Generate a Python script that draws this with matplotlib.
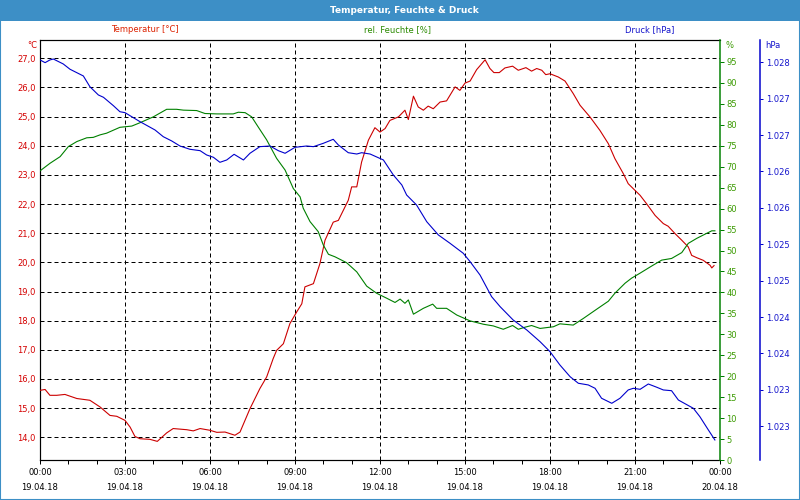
import matplotlib
matplotlib.use('Agg')
import matplotlib.pyplot as plt
from matplotlib.ticker import FixedLocator, MultipleLocator, FuncFormatter
from matplotlib.patches import Rectangle

plt.rcParams['font.family'] = ['DejaVu Sans']
plt.rcParams['lines.scale_dashes'] = False

# ---------------- data ----------------
hours_temp = [0.00, 0.18, 0.35, 0.59, 0.88, 1.30, 1.76, 2.12, 2.47, 2.71, 3.00, 3.18, 3.35, 3.53, 3.88,
              4.14, 4.47, 4.70, 5.18, 5.41, 5.65, 6.00, 6.24, 6.53, 6.88, 7.06, 7.41, 7.76, 8.00, 8.23,
              8.35, 8.59, 8.82, 9.06, 9.24, 9.35, 9.65, 9.88, 10.06, 10.35, 10.53, 10.88, 11.00, 11.18,
              11.35, 11.59, 11.82, 12.00, 12.18, 12.35, 12.65, 12.88, 13.00, 13.18, 13.35, 13.53, 13.70,
              13.88, 14.12, 14.35, 14.65, 14.82, 15.00, 15.18, 15.41, 15.71, 15.88, 16.02, 16.21, 16.41,
              16.68, 16.88, 17.15, 17.35, 17.53, 17.71, 17.85, 18.00, 18.29, 18.53, 18.82, 19.06, 19.41,
              19.76, 20.06, 20.29, 20.59, 20.76, 21.00, 21.18, 21.41, 21.71, 22.00, 22.17, 22.41, 22.65,
              22.88, 23.00, 23.18, 23.41, 23.65, 23.71, 23.79]
temperature = [15.61, 15.64, 15.44, 15.44, 15.47, 15.33, 15.27, 15.04, 14.75, 14.72, 14.58, 14.35, 14.03, 13.95, 13.93,
               13.86, 14.15, 14.30, 14.26, 14.22, 14.30, 14.24, 14.17, 14.18, 14.07, 14.18, 14.98, 15.67, 16.07, 16.70,
               16.98, 17.21, 17.90, 18.30, 18.58, 19.16, 19.27, 19.96, 20.76, 21.38, 21.44, 22.13, 22.59, 22.59,
               23.44, 24.19, 24.62, 24.47, 24.59, 24.87, 24.99, 25.22, 24.90, 25.70, 25.33, 25.22, 25.36,
               25.27, 25.50, 25.54, 26.02, 25.90, 26.15, 26.22, 26.61, 26.95, 26.65, 26.51, 26.51, 26.67,
               26.73, 26.59, 26.68, 26.56, 26.65, 26.59, 26.44, 26.47, 26.36, 26.22, 25.79, 25.39, 24.99,
               24.53, 24.07, 23.56, 23.04, 22.70, 22.47, 22.30, 22.01, 21.61, 21.33, 21.24, 20.99, 20.76,
               20.53, 20.24, 20.16, 20.07, 19.90, 19.81, 19.89]

hours_hum = [0.00, 0.35, 0.71, 1.00, 1.30, 1.65, 1.88, 2.12, 2.35, 2.82, 3.24, 3.53, 4.00, 4.47, 4.82,
             5.06, 5.53, 5.82, 6.24, 6.82, 7.00, 7.24, 7.47, 7.70, 8.00, 8.35, 8.65, 8.94, 9.18, 9.29,
             9.53, 9.82, 10.00, 10.18, 10.41, 10.82, 11.18, 11.53, 11.88, 12.24, 12.53, 12.71, 12.88, 13.00,
             13.18, 13.53, 13.86, 14.00, 14.35, 14.71, 15.18, 15.65, 16.00, 16.35, 16.68, 16.88, 17.12,
             17.35, 17.65, 18.12, 18.35, 18.82, 19.18, 19.65, 20.06, 20.29, 20.65, 20.88, 21.18, 21.59,
             21.94, 22.29, 22.65, 22.88, 23.18, 23.53, 23.71, 23.82]
humidity = [69.0, 70.8, 72.4, 74.8, 76.0, 76.9, 77.0, 77.6, 78.0, 79.4, 79.7, 80.5, 81.9, 83.7, 83.7,
            83.5, 83.4, 82.7, 82.6, 82.6, 83.0, 82.9, 81.9, 79.5, 76.4, 72.0, 69.2, 64.8, 62.8, 60.1,
            56.9, 54.5, 51.3, 49.1, 48.5, 47.1, 44.9, 41.5, 39.8, 38.6, 37.6, 38.4, 37.4, 38.2,
            34.8, 36.2, 37.2, 36.2, 36.2, 34.6, 33.2, 32.4, 32.0, 31.2, 32.1, 31.2, 31.7,
            32.1, 31.4, 31.8, 32.5, 32.2, 33.8, 36.0, 37.9, 39.8, 42.2, 43.4, 44.6, 46.3,
            47.7, 48.1, 49.5, 51.7, 52.9, 54.1, 54.7, 54.7]

hours_press = [0.00, 0.18, 0.35, 0.47, 0.82, 1.06, 1.30, 1.53, 1.76, 2.06, 2.24, 2.59, 2.82, 3.00, 3.53,
               4.06, 4.35, 4.65, 4.94, 5.29, 5.65, 5.88, 6.12, 6.35, 6.59, 6.85, 7.18, 7.41, 7.76, 8.12,
               8.41, 8.65, 9.00, 9.41, 9.65, 10.00, 10.35, 10.53, 10.88, 11.18, 11.35, 11.65, 12.12, 12.47,
               12.77, 12.94, 13.29, 13.65, 14.06, 14.47, 14.94, 15.18, 15.53, 15.94, 16.24, 16.70, 17.18,
               17.65, 18.00, 18.35, 18.71, 19.00, 19.35, 19.59, 19.82, 20.18, 20.47, 20.76, 20.94, 21.18,
               21.47, 21.77, 22.00, 22.29, 22.53, 23.06, 23.29, 23.59, 23.82]
pressure = [1.028032, 1.027995, 1.028032, 1.028045, 1.027977, 1.027904, 1.027857, 1.027812, 1.027665, 1.027551,
            1.027519, 1.027404, 1.027321, 1.027308, 1.027184, 1.027070, 1.026978, 1.026919, 1.026850, 1.026805,
            1.026786, 1.026727, 1.026695, 1.026626, 1.026658, 1.026736, 1.026658, 1.026750, 1.026841, 1.026850,
            1.026786, 1.026750, 1.026832, 1.026850, 1.026841, 1.026887, 1.026942, 1.026864, 1.026758, 1.026740,
            1.026758, 1.026740, 1.026658, 1.026452, 1.026315, 1.026177, 1.026040, 1.025810, 1.025628, 1.025514,
            1.025376, 1.025261, 1.025078, 1.024780, 1.024643, 1.024460, 1.024323, 1.024162, 1.024025, 1.023842,
            1.023681, 1.023591, 1.023568, 1.023522, 1.023385, 1.023316, 1.023385, 1.023499, 1.023522, 1.023508,
            1.023581, 1.023536, 1.023499, 1.023489, 1.023361, 1.023247, 1.023132, 1.022949, 1.022812]

temp_ticks = [14, 15, 16, 17, 18, 19, 20, 21, 22, 23, 24, 25, 26, 27]
hum_ticks = [0, 5, 10, 15, 20, 25, 30, 35, 40, 45, 50, 55, 60, 65, 70, 75, 80, 85, 90, 95]
press_ticks = [1.0280, 1.0275, 1.0270, 1.0265, 1.0260, 1.0255, 1.0250, 1.0245, 1.0240, 1.0235, 1.0230]
press_labels = ['1.028', '1.027', '1.027', '1.026', '1.026', '1.025', '1.025', '1.024', '1.024', '1.023', '1.023']
x_ticks = [0, 3, 6, 9, 12, 15, 18, 21, 24]
x_labels = ['00:00\n19.04.18', '03:00\n19.04.18', '06:00\n19.04.18', '09:00\n19.04.18', '12:00\n19.04.18',
            '15:00\n19.04.18', '18:00\n19.04.18', '21:00\n19.04.18', '00:00\n20.04.18']

# ---------------- styling ----------------
W, H = 800, 500
RED, GREEN, BLUE = '#cc0000', '#008000', '#0000cc'
RED_T, GREEN_T, BLUE_T = '#d40000', '#3a9a00', '#1515cc'
FS = 6
PX = 0.72

fig = plt.figure(figsize=(8, 5), dpi=100)
fig.patch.set_facecolor('white')
L, R, T, B = 40, 720, 40, 460
ax = fig.add_axes([L / W, 1 - B / H, (R - L) / W, (B - T) / H])
ax2 = ax.twinx()
ax3 = ax.twinx()

ax.set_xlim(0, 24)
ax.set_ylim(13.221, 27.628)
ax2.set_ylim(0, 100.24)
ax3.set_ylim(1.022537, 1.028306)

ax.plot(hours_temp, temperature, color=RED, lw=0.8, zorder=3)
ax2.plot(hours_hum, humidity, color=GREEN, lw=0.8)
ax3.plot(hours_press, pressure, color=BLUE, lw=0.8)

# grid
dash = (0, (4 * PX, 3 * PX))
ax.grid(True, which='major', color='black', linewidth=PX, linestyle=dash)

# x axis
ax.xaxis.set_major_locator(FixedLocator(x_ticks))
ax.set_xticklabels(x_labels, linespacing=1.75)
ax.xaxis.set_minor_locator(MultipleLocator(1))
ax.tick_params(axis='x', which='both', length=3, width=PX, direction='out', pad=3,
               labelsize=FS, colors='black')

# temperature axis
ax.yaxis.set_major_locator(FixedLocator(temp_ticks))
ax.yaxis.set_major_formatter(FuncFormatter(lambda v, p: f"{v:.1f}".replace('.', ',')))
ax.tick_params(axis='y', length=0, pad=3, labelsize=FS, labelcolor=RED_T)

for s in ['left', 'top', 'bottom']:
    ax.spines[s].set_color('black')
    ax.spines[s].set_linewidth(PX * 1.2)
ax.spines['right'].set_visible(False)

# humidity axis
ax2.yaxis.set_major_locator(FixedLocator(hum_ticks))
ax2.tick_params(axis='y', length=3, width=PX, color=GREEN, labelcolor=GREEN_T, pad=1.5, labelsize=FS)
for s in ['left', 'top', 'bottom']:
    ax2.spines[s].set_visible(False)
ax2.spines['right'].set_color(GREEN)
ax2.spines['right'].set_linewidth(PX * 1.5)

# pressure axis
ax3.spines['right'].set_position(('axes', (760 - L) / (R - L)))
ax3.yaxis.set_major_locator(FixedLocator(press_ticks))
ax3.set_yticklabels(press_labels)
ax3.tick_params(axis='y', length=2.5, width=PX, color=BLUE, labelcolor=BLUE_T, pad=2, labelsize=FS)
for s in ['left', 'top', 'bottom']:
    ax3.spines[s].set_visible(False)
ax3.spines['right'].set_color(BLUE)
ax3.spines['right'].set_linewidth(PX * 1.5)

# title bar and frame
BAR = '#3d8fc6'
fig.patches.append(Rectangle((0, 1 - 21 / H), 1, 21 / H, transform=fig.transFigure,
                             facecolor=BAR, edgecolor='none', zorder=0))
fig.patches.append(Rectangle((0, 0), 1, 1, transform=fig.transFigure, fill=False,
                             edgecolor=BAR, linewidth=1.5, zorder=10))
fig.text(404 / W, 1 - 10.5 / H, 'Temperatur, Feuchte & Druck', color='white', fontsize=6.5,
         fontweight='bold', ha='center', va='center')

# series headers
fig.text(145 / W, 1 - 30 / H, 'Temperatur [°C]', color='#dd2200', fontsize=FS, ha='center', va='center')
fig.text(397 / W, 1 - 30 / H, 'rel. Feuchte [%]', color='#2a8a00', fontsize=FS, ha='center', va='center')
fig.text(650 / W, 1 - 30 / H, 'Druck [hPa]', color='#1515cc', fontsize=FS, ha='center', va='center')

# unit labels
fig.text(37 / W, 1 - 45 / H, '°C', color=RED_T, fontsize=FS, ha='right', va='center')
fig.text(725 / W, 1 - 45 / H, '%', color=GREEN_T, fontsize=FS, ha='left', va='center')
fig.text(765 / W, 1 - 45 / H, 'hPa', color=BLUE_T, fontsize=FS, ha='left', va='center')

fig.savefig('out.png', dpi=100, facecolor='white')
